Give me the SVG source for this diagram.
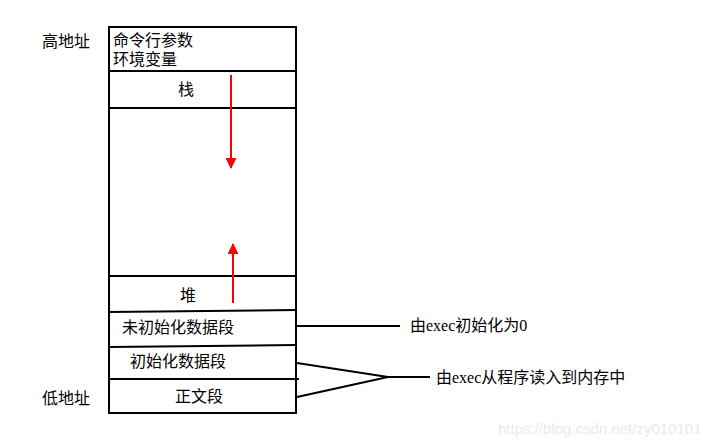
<svg xmlns="http://www.w3.org/2000/svg" width="718" height="448" viewBox="0 0 718 448">
<style>
.t{font-family:"Liberation Sans","Noto Sans CJK SC",sans-serif;font-size:16px;fill:#000}
.s{font-family:"Liberation Serif","Noto Sans CJK SC",serif;font-size:16px;fill:#000}
.ln{stroke:#000;stroke-width:2;fill:none}
.red{stroke:#f00;stroke-width:2;fill:none}
</style>
<defs>
<marker id="ah" viewBox="0 0 10 10" refX="9" refY="5" markerWidth="6" markerHeight="5.5" orient="auto" markerUnits="strokeWidth">
<path d="M0,0 L10,5 L0,10 z" fill="#f00"/>
</marker>
</defs>
<rect width="718" height="448" fill="#fff"/>
<g id="labels-left">
<text class="t" x="42" y="47">高地址</text>
<text class="t" x="42" y="404">低地址</text>
</g>
<g id="memory">
<rect x="109" y="27" width="187" height="386" class="ln"/>
<line x1="109" y1="71" x2="296" y2="71" class="ln"/>
<line x1="109" y1="108" x2="296" y2="108" class="ln"/>
<line x1="109" y1="276" x2="296" y2="276" class="ln"/>
<line x1="109" y1="312" x2="297" y2="310" class="ln"/>
<line x1="109" y1="347" x2="296" y2="345" class="ln"/>
<line x1="109" y1="379" x2="299" y2="379" class="ln"/>
</g>
<g id="args"><text class="t" x="113" y="46">命令行参数</text><text class="t" x="113" y="65">环境变量</text></g>
<g id="stack"><text class="t" x="186" y="95" text-anchor="middle">栈</text></g>
<g id="heap"><text class="t" x="188" y="301" text-anchor="middle">堆</text></g>
<g id="bss"><text class="t" x="122" y="333">未初始化数据段</text></g>
<g id="data"><text class="t" x="130" y="367">初始化数据段</text></g>
<g id="text"><text class="t" x="199" y="402" text-anchor="middle">正文段</text></g>
<g id="connectors">
<line x1="231" y1="75" x2="231" y2="168" class="red" marker-end="url(#ah)"/>
<line x1="233" y1="303" x2="233" y2="244" class="red" marker-end="url(#ah)"/>
<line x1="297" y1="326" x2="400" y2="326" class="ln"/>
<polyline points="297,363 388,377 297,397" class="ln"/>
<line x1="388" y1="377" x2="430" y2="377" class="ln"/>
</g>
<g id="notes">
<text class="s" x="410" y="331">由exec初始化为0</text>
<text class="s" x="436" y="383">由exec从程序读入到内存中</text>
</g>
<text x="498" y="434" font-family="Liberation Sans,sans-serif" font-size="15" fill="#eaeaea">https://blog.csdn.net/zy010101</text>
</svg>
